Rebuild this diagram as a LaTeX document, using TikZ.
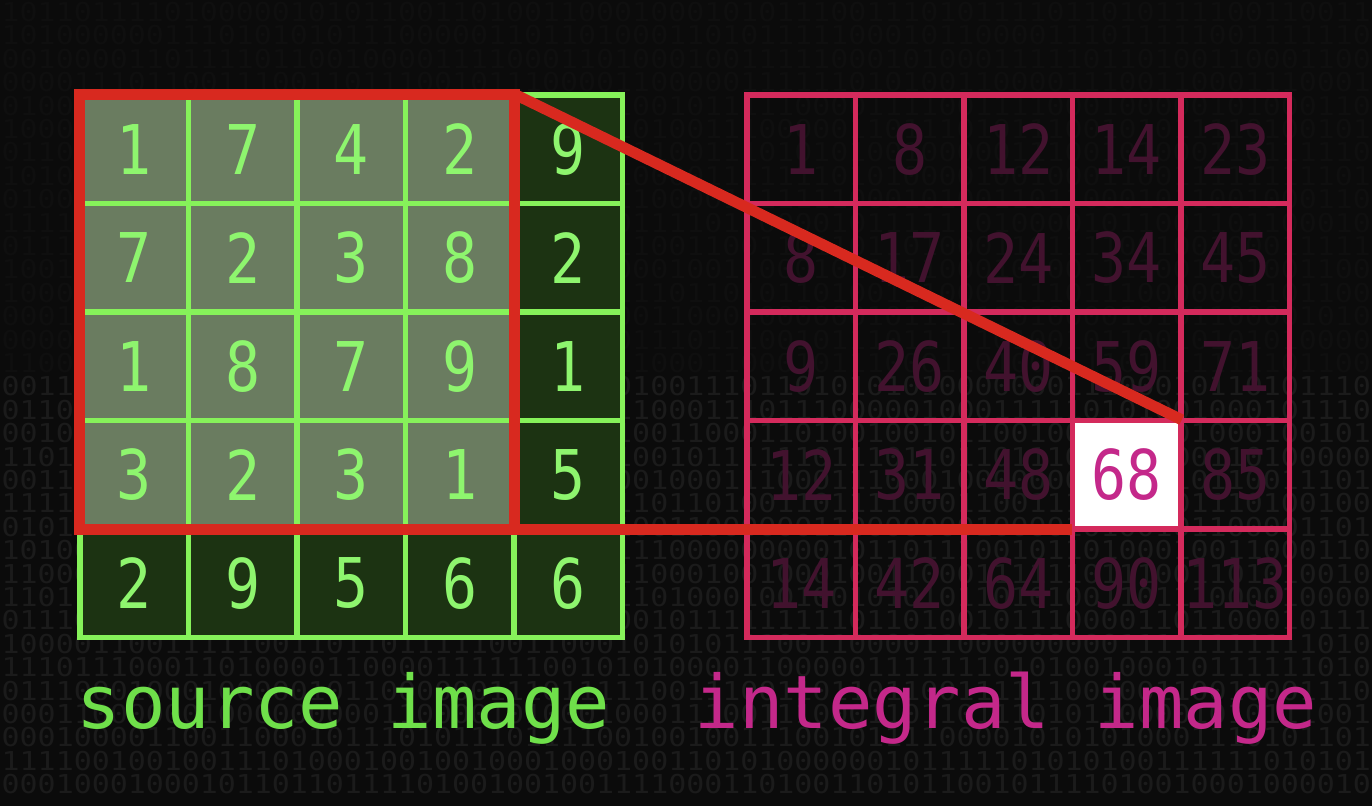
\documentclass[tikz,border=0pt]{standalone}
\usepackage{fontspec}
\setmonofont{DejaVu Sans Mono}
\newfontfamily\cellfont[FakeStretch=0.85]{DejaVu Sans Mono}
\newfontfamily\bitfont[FakeStretch=1.15]{DejaVu Sans Mono}
\usetikzlibrary{positioning}

\definecolor{bgblack}{HTML}{0B0B0B}
\definecolor{bitdim}{HTML}{0F0F0F}
\definecolor{bitgray}{HTML}{1B1B1B}
\definecolor{srcline}{HTML}{86F25A}
\definecolor{srcdigit}{HTML}{8EF56E}
\definecolor{srchigh}{HTML}{6A7C60}
\definecolor{srcdark}{HTML}{1C3312}
\definecolor{sumred}{HTML}{D8291F}
\definecolor{intline}{HTML}{D42A5C}
\definecolor{intdigit}{HTML}{42122E}
\definecolor{intlabel}{HTML}{C4288A}
\definecolor{srclabel}{HTML}{6FE04A}

\tikzset{
  bits/.style={font=\bitfont\fontsize{7.4}{7.4}\selectfont, anchor=west, inner sep=0pt},
  srccell/.style={minimum size=1.085cm, inner sep=0pt, text=srcdigit,
    font=\cellfont\fontsize{19.5}{19.5}\selectfont},
  intcell/.style={minimum size=1.085cm, inner sep=0pt,
    font=\cellfont\fontsize{19.5}{19.5}\selectfont},
  srcgrid/.style={srcline, line width=1.7pt, line cap=rect},
  intgrid/.style={intline, line width=1.45pt, line cap=rect},
  sumbox/.style={sumred, line width=3.1pt, line join=miter},
  caption/.style={font=\ttfamily\fontsize{21}{21}\selectfont, anchor=base west, inner sep=0pt}
}

\begin{document}
\begin{tikzpicture}[x=0.01cm, y=-0.01cm]
  % 背景
  \fill[bgblack] (0,0) rectangle (1372,806);
  \useasboundingbox (0,0) rectangle (1372,806);

  % 二進位紋理
  \pgfmathsetseed{7}
  \foreach \k in {0,...,33}{
    \gdef\bitstr{}
    \foreach \j in {1,...,76}{\pgfmathrandominteger{\b}{0}{1}\xdef\bitstr{\bitstr\b}}
    \pgfmathsetmacro{\by}{12+23.4*\k}
    \ifnum\k<16 \def\bc{bitdim}\else\def\bc{bitgray}\fi
    \node[bits, text=\bc] (bits-\k) at (1,\by) {\bitstr};
  }

  % 原圖底色
  \fill[srcdark] (80,95) rectangle (622.5,637.5);
  \fill[srchigh] (80,95) rectangle (514,529);

  % 原圖格線
  \foreach \i in {0,...,5}{
    \draw[srcgrid] ({80+108.5*\i},95) -- ({80+108.5*\i},637.5);
    \draw[srcgrid] (80,{95+108.5*\i}) -- (622.5,{95+108.5*\i});
  }

  % 原圖數字
  \foreach \row [count=\r from 0] in {{1,7,4,2,9},{7,2,3,8,2},{1,8,7,9,1},{3,2,3,1,5},{2,9,5,6,6}}{
    \foreach \v [count=\c from 0] in \row
      \node[srccell] (s-\r-\c) at ({134.25+108.5*\c},{149.25+108.5*\r}) {\v};
  }

  % 積分圖數字
  \foreach \row [count=\r from 0] in {{1,8,12,14,23},{8,17,24,34,45},{9,26,40,59,71},{12,31,48,68,85},{14,42,64,90,113}}{
    \foreach \v [count=\c from 0] in \row {
      \ifnum\r\c=33 \def\tc{intlabel}\def\fc{white}\else\def\tc{intdigit}\def\fc{none}\fi
      \node[intcell, text=\tc, fill=\fc] (i-\r-\c) at ({801.25+108.5*\c},{149.25+108.5*\r}) {\v};
    }
  }

  % 積分圖格線
  \foreach \i in {0,...,5}{
    \draw[intgrid] ({747+108.5*\i},95) -- ({747+108.5*\i},637.5);
    \draw[intgrid] (747,{95+108.5*\i}) -- (1289.5,{95+108.5*\i});
  }

  % 區域與連線
  \draw[sumbox] (s-0-0.north west) rectangle (s-3-3.south east);
  \draw[sumbox] (s-0-3.north east) -- (i-3-3.north east);
  \draw[sumbox] (s-3-3.south east) -- (i-3-3.south west);

  % 標籤
  \node[caption, text=srclabel] (src-label) at (76,728) {source image};
  \node[caption, text=intlabel] (int-label) at (694,728) {integral image};
\end{tikzpicture}
\end{document}
